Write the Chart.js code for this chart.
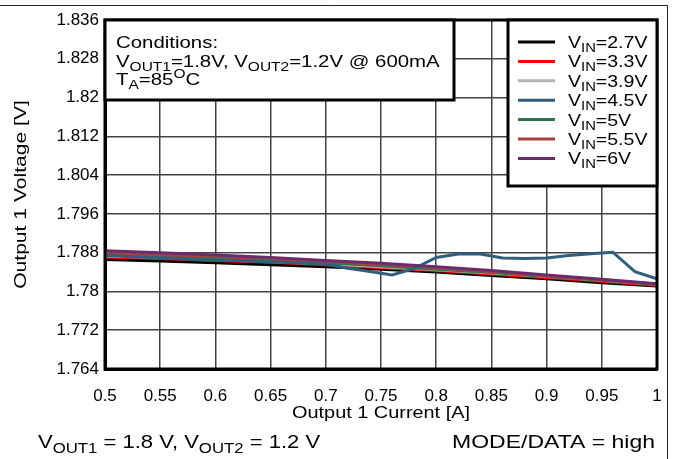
<!DOCTYPE html>
<html>
<head>
<meta charset="utf-8">
<script src="https://cdn.jsdelivr.net/npm/chart.js@4.4.0/dist/chart.umd.min.js"></script>
<style>
html, body { margin: 0; padding: 0; background: #fff; overflow: hidden; }
</style>
</head>
<body>
<canvas id="c" width="673" height="459"></canvas>
<script>
// --- data ---
const currentCoarse = [0.5, 0.55, 0.6, 0.65, 0.7, 0.75, 0.8, 0.85, 0.9, 0.95, 1.0]
const currentFine = [0.5, 0.52, 0.54, 0.56, 0.58, 0.6, 0.62, 0.64, 0.66, 0.68, 0.7, 0.72, 0.74,
  0.76, 0.78, 0.8, 0.82, 0.84, 0.86, 0.88, 0.9, 0.92, 0.94, 0.96, 0.98, 1.0]

const vin = ["2.7V", "3.3V", "3.9V", "4.5V", "5V", "5.5V", "6V"]
const colors = ["#000000", "#ff0000", "#b4b4b4", "#2f5f7c", "#2f7352", "#a8423f", "#6b2c6e"]

const v27 = [1.7866, 1.7863, 1.7859, 1.7855, 1.7851, 1.7846, 1.7840, 1.7833, 1.7826, 1.7818, 1.7811]
const v33 = [1.7871, 1.7868, 1.7864, 1.7860, 1.7855, 1.7849, 1.7843, 1.7836, 1.7829, 1.7821, 1.7813]
const v39 = [1.7873, 1.7870, 1.7866, 1.7862, 1.7857, 1.7851, 1.7845, 1.7838, 1.7831, 1.7823, 1.7815]
const v45 = [1.7874, 1.7872, 1.7870, 1.7868, 1.7866, 1.7865, 1.7864, 1.7862, 1.7860, 1.7858, 1.7856,
  1.7848, 1.7841, 1.7834, 1.7847, 1.7870, 1.7877, 1.7877, 1.7869, 1.7868, 1.7869, 1.7874, 1.7878,
  1.7881, 1.7841, 1.7826]
const v50 = [1.7876, 1.7873, 1.7869, 1.7864, 1.7859, 1.7853, 1.7846, 1.7839, 1.7831, 1.7823, 1.7815]
const v55 = [1.7880, 1.7876, 1.7872, 1.7867, 1.7862, 1.7856, 1.7849, 1.7841, 1.7832, 1.7824, 1.7815]
const v60 = [1.7884, 1.7880, 1.7875, 1.7870, 1.7864, 1.7858, 1.7851, 1.7843, 1.7834, 1.7825, 1.7816]

const xTicks = [0.5, 0.55, 0.6, 0.65, 0.7, 0.75, 0.8, 0.85, 0.9, 0.95, 1]
const xTickLabels = ["0.5", "0.55", "0.6", "0.65", "0.7", "0.75", "0.8", "0.85", "0.9", "0.95", "1"]
const yTicks = [1.764, 1.772, 1.78, 1.788, 1.796, 1.804, 1.812, 1.82, 1.828, 1.836]
const yTickLabels = ["1.764", "1.772", "1.78", "1.788", "1.796", "1.804", "1.812", "1.82", "1.828", "1.836"]

const FONT = "'Liberation Sans', Arial, sans-serif"
const SX = 1.2 // the reference text is a bit wider than Arial

function pts(xs, ys) {
  return xs.map((x, i) => ({ x: x, y: ys[i] }))
}

const series = [
  pts(currentCoarse, v27), pts(currentCoarse, v33), pts(currentCoarse, v39),
  pts(currentFine, v45), pts(currentCoarse, v50), pts(currentCoarse, v55), pts(currentCoarse, v60)
]
// purple drawn on top, black at the bottom
const drawOrder = [6, 5, 4, 1, 3, 2, 0]

// text with sub / superscripts: parts = [[text, mode]], mode 0 normal, 1 sub, 2 sup
// align: 0 left, 1 right, 0.5 centre
function rich(ctx, x, y, parts, size, align, sx) {
  align = align || 0
  sx = sx || SX
  let w = 0
  parts.forEach(p => {
    ctx.font = (p[1] ? size * 0.76 : size) + "px " + FONT
    w += ctx.measureText(p[0]).width
  })
  ctx.save()
  ctx.translate(x, y)
  ctx.scale(sx, 1)
  let cx = -w * align
  ctx.textAlign = "left"
  ctx.textBaseline = "alphabetic"
  parts.forEach(p => {
    let s = p[1] ? size * 0.76 : size
    ctx.font = s + "px " + FONT
    let dy = p[1] == 1 ? size * 0.25 : (p[1] == 2 ? -size * 0.42 : 0)
    ctx.fillText(p[0], cx, dy)
    cx += ctx.measureText(p[0]).width
  })
  ctx.restore()
}

const decor = {
  id: "decor",
  beforeDraw(chart) {
    let ctx = chart.ctx
    ctx.save()
    ctx.fillStyle = "#fff"
    ctx.fillRect(0, 0, chart.width, chart.height)
    ctx.restore()
  },
  afterDraw(chart) {
    let ctx = chart.ctx
    let a = chart.chartArea
    ctx.save()
    // outer frame
    ctx.strokeStyle = "#222"
    ctx.lineWidth = 1
    ctx.beginPath()
    ctx.moveTo(0, 5.5)
    ctx.lineTo(667.5, 5.5)
    ctx.lineTo(667.5, 459)
    ctx.stroke()

    // plot border
    ctx.strokeStyle = "#000"
    ctx.lineWidth = 3
    ctx.strokeRect(a.left, a.top, a.right - a.left, a.bottom - a.top)

    // axis titles
    ctx.fillStyle = "#000"
    rich(ctx, (a.left + a.right) / 2, 418, [["Output 1 Current [A]", 0]], 17, 0.5, 1.17)
    ctx.save()
    ctx.translate(20, (a.top + a.bottom) / 2)
    ctx.rotate(-Math.PI / 2)
    rich(ctx, 0, 6, [["Output 1 Voltage [V]", 0]], 17, 0.5, 1.24)
    ctx.restore()

    // conditions box
    ctx.fillStyle = "#fff"
    ctx.fillRect(a.left, a.top, 349, 80)
    ctx.strokeRect(a.left, a.top, 349, 80)
    ctx.fillStyle = "#000"
    rich(ctx, a.left + 11, a.top + 28, [["Conditions:", 0]], 17)
    rich(ctx, a.left + 11, a.top + 47, [["V", 0], ["OUT1", 1], ["=1.8V, V", 0], ["OUT2", 1], ["=1.2V @ 600mA", 0]], 17)
    rich(ctx, a.left + 11, a.top + 65, [["T", 0], ["A", 1], ["=85", 0], ["O", 2], ["C", 0]], 17)

    // legend box
    let lx = 508, ly = a.top
    ctx.fillStyle = "#fff"
    ctx.fillRect(lx, ly, a.right - lx, 166)
    ctx.lineWidth = 3
    ctx.strokeRect(lx, ly, a.right - lx, 166)
    vin.forEach((v, i) => {
      let y = ly + 22 + i * 19.4
      ctx.strokeStyle = colors[i]
      ctx.lineWidth = 3
      ctx.beginPath()
      ctx.moveTo(518, y)
      ctx.lineTo(555, y)
      ctx.stroke()
      ctx.fillStyle = "#000"
      rich(ctx, 568, y + 6, [["V", 0], ["IN", 1], ["=" + v, 0]], 16, 0, 1.22)
    })

    // footer
    ctx.fillStyle = "#000"
    rich(ctx, 38, 448, [["V", 0], ["OUT1", 1], [" = 1.8 V, V", 0], ["OUT2", 1], [" = 1.2 V", 0]], 19, 0, 1.16)
    rich(ctx, 655, 448, [["MODE/DATA = high", 0]], 19, 1, 1.21)
    ctx.restore()
  }
}

new Chart(document.getElementById("c"), {
  type: "line",
  data: {
    datasets: series.map((d, i) => ({
      label: "VIN=" + vin[i],
      data: d,
      borderColor: colors[i],
      backgroundColor: colors[i],
      borderWidth: 3,
      pointRadius: 0,
      tension: 0,
      order: drawOrder[i]
    }))
  },
  options: {
    responsive: false,
    animation: false,
    layout: { autoPadding: false, padding: { left: 0, top: 20, right: 16, bottom: 34 } },
    plugins: { legend: { display: false }, tooltip: { enabled: false } },
    scales: {
      x: {
        type: "linear",
        min: 0.5,
        max: 1,
        afterBuildTicks: s => { s.ticks = xTicks.map(v => ({ value: v })) },
        afterFit: s => { s.height = 56; s.paddingLeft = 0; s.paddingRight = 0 },
        ticks: {
          padding: 17,
          color: "#000",
          font: { family: FONT, size: 17 },
          maxRotation: 0,
          autoSkip: false,
          callback: (v, i) => xTickLabels[i]
        },
        grid: { color: "#444", lineWidth: 1.5, drawTicks: false },
        border: { color: "#000", width: 3 }
      },
      y: {
        min: 1.764,
        max: 1.836,
        afterBuildTicks: s => { s.ticks = yTicks.map(v => ({ value: v })) },
        afterFit: s => { s.width = 105; s.paddingTop = 0; s.paddingBottom = 0 },
        ticks: {
          padding: 6,
          color: "#000",
          font: { family: FONT, size: 17 },
          autoSkip: false,
          callback: (v, i) => yTickLabels[i]
        },
        grid: { color: "#444", lineWidth: 1.5, drawTicks: false },
        border: { color: "#000", width: 3 }
      }
    }
  },
  plugins: [decor]
})
</script>
</body>
</html>
